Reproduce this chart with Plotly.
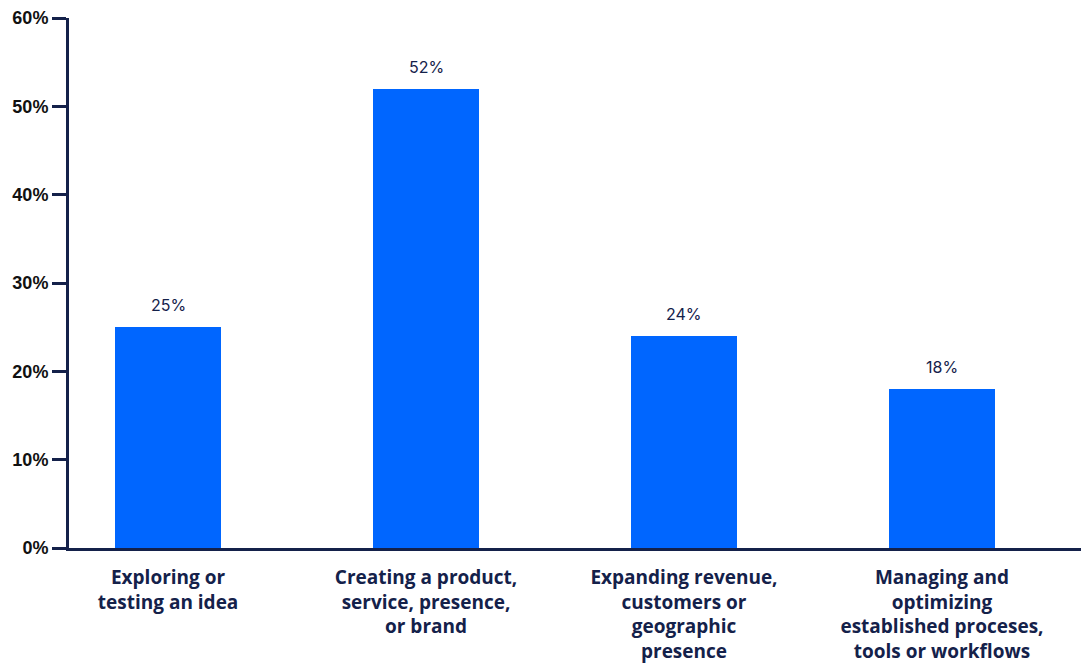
import plotly.graph_objects as go

categories = [
    "Exploring or<br>testing an idea",
    "Creating a product,<br>service, presence,<br>or brand",
    "Expanding revenue,<br>customers or<br>geographic<br>presence",
    "Managing and<br>optimizing<br>established proceses,<br>tools or workflows",
]
values = [25, 52, 24, 18]
y_ticks = [0, 10, 20, 30, 40, 50, 60]
y_tick_labels = [f"{v}%" for v in y_ticks]

NAVY = "#14214a"
BLUE = "#0066ff"

x_pos = list(range(len(categories)))

fig = go.Figure(
    go.Bar(
        x=x_pos,
        y=values,
        width=0.41,
        marker=dict(color=BLUE, line=dict(width=0)),
        hoverinfo="skip",
    )
)

for x, v in zip(x_pos, values):
    fig.add_annotation(
        x=x, y=v, text=f"{v}%", showarrow=False,
        yanchor="bottom", yshift=10,
        font=dict(family="Inter, Roboto, sans-serif", size=16, color=NAVY),
    )

fig.update_layout(
    width=1081, height=664,
    margin=dict(l=69, r=0, t=18, b=114),
    plot_bgcolor="white", paper_bgcolor="white",
    showlegend=False,
    bargap=0,
)

fig.update_xaxes(
    range=[-0.384, 3.539],
    tickvals=x_pos, ticktext=categories,
    showline=True, linecolor=NAVY, linewidth=3,
    ticks="", showgrid=False, zeroline=False,
    ticklabelstandoff=10,
    tickfont=dict(family="Open Sans, sans-serif", size=19, color=NAVY, weight="bold"),
)

fig.update_yaxes(
    range=[0, 60],
    tickvals=y_ticks, ticktext=y_tick_labels,
    showline=True, linecolor=NAVY, linewidth=3,
    ticks="outside", ticklen=14, tickwidth=3, tickcolor=NAVY,
    showgrid=False, zeroline=False,
    tickfont=dict(family="Liberation Sans, Arial, sans-serif", size=18, color="#111111", weight="bold"),
)

fig.write_html("out.html")
